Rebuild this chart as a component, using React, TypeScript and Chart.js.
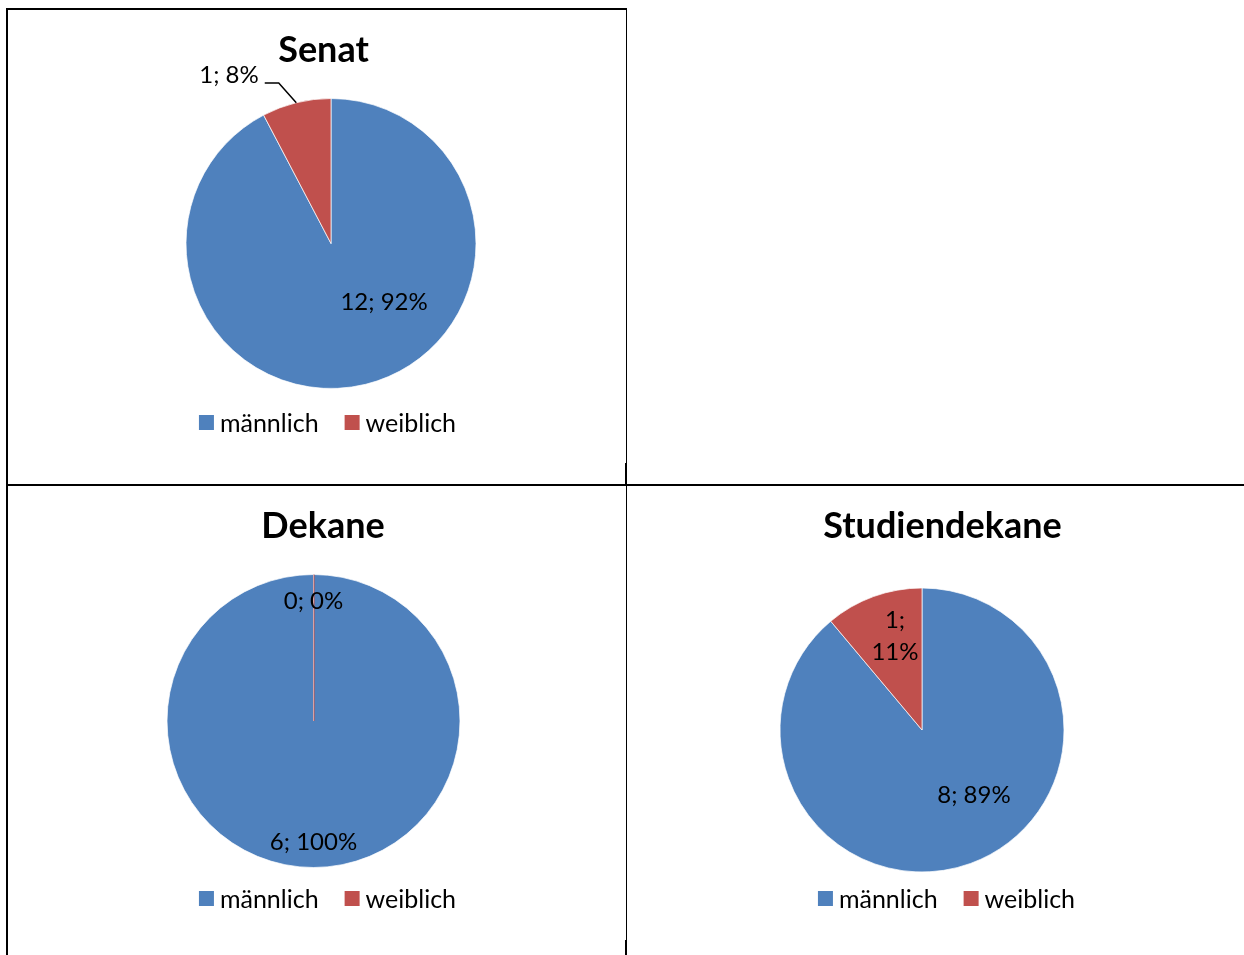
import React, { useEffect, useRef } from 'react';
import { Chart, registerables } from 'chart.js';

Chart.register(...registerables);

// ---- data ----
const categories = ['männlich', 'weiblich'];
const senatValues = [12, 1];
const dekaneValues = [6, 0];
const studiendekaneValues = [8, 1];
const seriesColors = ['#4F81BD', '#C0504D'];

// ---- style / layout ----
const FONT = 'Lato, "Open Sans", sans-serif';
const LABEL_SIZE = 24;
const LEGEND_SIZE = 25;
const TITLE_SIZE = 36;

type Placement = { angle: number; frac: number; wrap?: boolean; leader?: boolean };
type Spec = {
  title: string;
  values: number[];
  cell: { left: number; top: number; width: number; height: number };
  pie: { cx: number; cy: number; r: number };
  titleX: number;
  titleBase: number;
  legendX: number;
  legendMid: number;
  labels: Placement[];
};

const specs: Spec[] = [
  {
    title: 'Senat',
    values: senatValues,
    cell: { left: 8, top: 10, width: 617, height: 474 },
    pie: { cx: 331, cy: 243.5, r: 145 },
    titleX: 323.5,
    titleBase: 62,
    legendX: 327.5,
    legendMid: 422.5,
    labels: [
      { angle: 137.8, frac: 0.545 },
      { angle: 328.8, frac: 1.358, leader: true },
    ],
  },
  {
    title: 'Dekane',
    values: dekaneValues,
    cell: { left: 8, top: 487, width: 617, height: 468 },
    pie: { cx: 313.5, cy: 721, r: 146.5 },
    titleX: 323,
    titleBase: 538,
    legendX: 327.5,
    legendMid: 898.5,
    labels: [
      { angle: 180, frac: 0.83 },
      { angle: 0, frac: 0.82 },
    ],
  },
  {
    title: 'Studiendekane',
    values: studiendekaneValues,
    cell: { left: 628, top: 487, width: 616, height: 468 },
    pie: { cx: 922, cy: 730, r: 142 },
    titleX: 942.5,
    titleBase: 538,
    legendX: 946.5,
    legendMid: 898.5,
    labels: [
      { angle: 141.3, frac: 0.585 },
      { angle: 344, frac: 0.69, wrap: true },
    ],
  },
];

function labelText(values: number[], i: number): string {
  const sum = values.reduce((a, b) => a + b, 0);
  const pct = sum ? Math.round((values[i] / sum) * 100) : 0;
  return `${values[i]}; ${pct}%`;
}

function PieCell({ spec }: { spec: Spec }) {
  const ref = useRef<HTMLCanvasElement | null>(null);

  useEffect(() => {
    const canvas = ref.current;
    if (!canvas) return;
    const { cell, pie } = spec;
    const cxc = pie.cx - cell.left;
    const cyc = pie.cy - cell.top;
    const s = pie.r + 0.5;

    const overlay = {
      id: 'overlay-' + spec.title,
      afterDatasetsDraw(chart: any) {
        const ctx = chart.ctx as CanvasRenderingContext2D;
        const meta = chart.getDatasetMeta(0);
        const a0 = meta.data[0] as any;
        const cx = a0.x;
        const cy = a0.y;
        const r = a0.outerRadius;
        ctx.save();

        // zero-value slices show as a thin line
        spec.values.forEach((v, i) => {
          if (v === 0) {
            const arc = meta.data[i] as any;
            const ang = arc.startAngle;
            ctx.strokeStyle = seriesColors[i];
            ctx.lineWidth = 1;
            ctx.beginPath();
            ctx.moveTo(cx + 0.5, cy);
            ctx.lineTo(cx + 0.5 + r * Math.cos(ang), cy + r * Math.sin(ang));
            ctx.stroke();
          }
        });

        // data labels
        ctx.fillStyle = '#000';
        ctx.font = `${LABEL_SIZE}px ${FONT}`;
        ctx.textAlign = 'center';
        ctx.textBaseline = 'middle';
        spec.values.forEach((v, i) => {
          const p = spec.labels[i];
          const th = (p.angle * Math.PI) / 180;
          const x = cx + p.frac * r * Math.sin(th);
          const y = cy - p.frac * r * Math.cos(th);
          const txt = labelText(spec.values, i);
          if (p.wrap) {
            const parts = txt.split(' ');
            const lh = 32;
            parts.forEach((t, k) => {
              ctx.fillText(t, x, y + (k - (parts.length - 1) / 2) * lh);
            });
          } else {
            ctx.fillText(txt, x, y);
          }
          if (p.leader) {
            const w = ctx.measureText(txt).width;
            const arc = meta.data[i] as any;
            const mid = (arc.startAngle + arc.endAngle) / 2;
            const sx = x + w / 2 + 6;
            const sy = y + 8;
            ctx.strokeStyle = '#000';
            ctx.lineWidth = 1.5;
            ctx.beginPath();
            ctx.moveTo(sx, sy);
            ctx.lineTo(sx + 14, sy);
            ctx.lineTo(cx + r * Math.cos(mid), cy + r * Math.sin(mid));
            ctx.stroke();
          }
        });

        // title
        ctx.fillStyle = '#000';
        ctx.font = `bold ${TITLE_SIZE}px ${FONT}`;
        ctx.textBaseline = 'alphabetic';
        ctx.textAlign = 'center';
        ctx.fillText(spec.title, spec.titleX - cell.left, spec.titleBase - cell.top);

        // legend
        ctx.font = `${LEGEND_SIZE}px ${FONT}`;
        ctx.textAlign = 'left';
        ctx.textBaseline = 'middle';
        const box = 15;
        const gapText = 6;
        const gapItem = 26;
        const widths = categories.map((c) => ctx.measureText(c).width);
        const total =
          widths.reduce((acc, w) => acc + box + gapText + w, 0) + gapItem * (categories.length - 1);
        let x = spec.legendX - cell.left - total / 2;
        const ym = spec.legendMid - cell.top;
        categories.forEach((c, i) => {
          ctx.fillStyle = seriesColors[i];
          ctx.fillRect(x, ym - box / 2, box, box);
          ctx.fillStyle = '#000';
          ctx.fillText(c, x + box + gapText, ym + 1);
          x += box + gapText + widths[i] + gapItem;
        });
        ctx.restore();
      },
    };

    const chart = new Chart(canvas, {
      type: 'pie',
      data: {
        labels: categories,
        datasets: [
          {
            data: spec.values,
            backgroundColor: seriesColors,
            borderColor: 'rgba(255,255,255,0.7)',
            borderWidth: 1,
          },
        ],
      },
      options: {
        responsive: false,
        animation: false,
        events: [],
        layout: {
          padding: {
            left: cxc - s,
            top: cyc - s,
            right: cell.width - (cxc + s),
            bottom: cell.height - (cyc + s),
          },
        },
        plugins: {
          legend: { display: false },
          title: { display: false },
          tooltip: { enabled: false },
        },
      },
      plugins: [overlay],
    });
    return () => chart.destroy();
  }, [spec]);

  return (
    <canvas
      ref={ref}
      width={spec.cell.width}
      height={spec.cell.height}
      style={{
        position: 'absolute',
        left: spec.cell.left,
        top: spec.cell.top,
        width: spec.cell.width,
        height: spec.cell.height,
      }}
    />
  );
}

const line = (left: number, top: number, width: number, height: number) => (
  <div
    style={{ position: 'absolute', left, top, width, height, background: '#000' }}
  />
);

export default function App() {
  return (
    <div
      style={{
        position: 'absolute',
        left: 0,
        top: 0,
        width: 1244,
        height: 955,
        background: '#fff',
        overflow: 'hidden',
      }}
    >
      {specs.map((s) => (
        <PieCell key={s.title} spec={s} />
      ))}
      {line(6, 8, 621, 2)}
      {line(6, 8, 2, 947)}
      {line(626, 8, 1, 947)}
      {line(625, 463, 2, 22)}
      {line(625, 940, 2, 15)}
      {line(6, 484, 1238, 2)}
    </div>
  );
}
